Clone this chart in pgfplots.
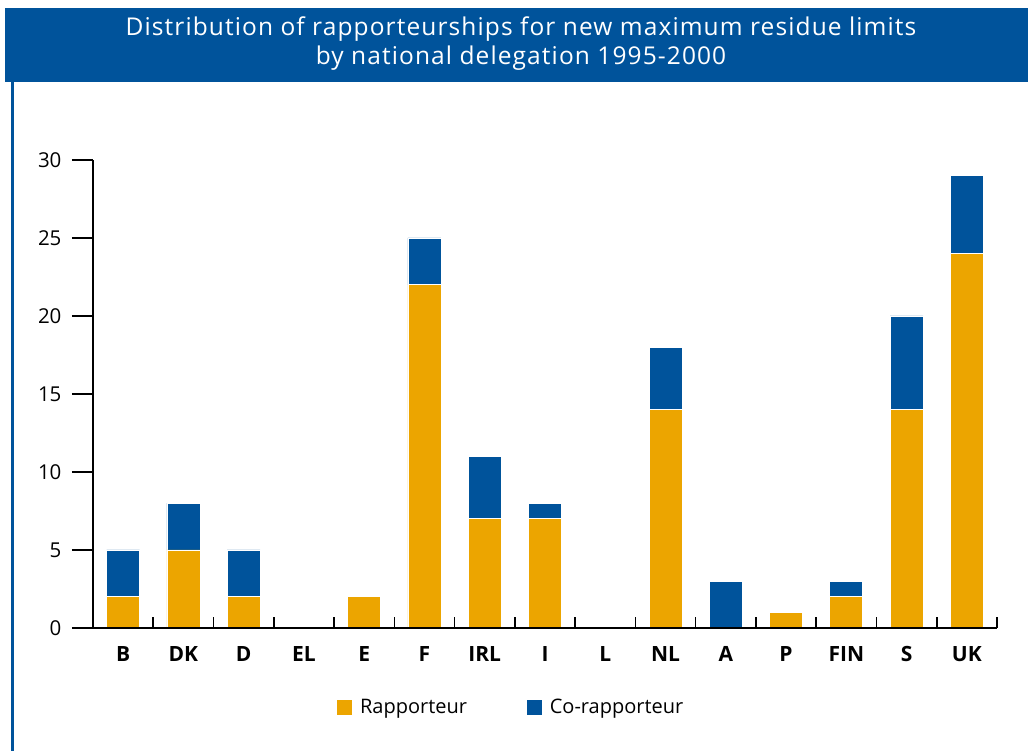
\documentclass[border=0pt]{standalone}
\usepackage{fontspec}
\setmainfont{Open Sans}
\newfontfamily\titlefont[LetterSpace=4.5]{Open Sans}
\usepackage{pgfplots}
\pgfplotsset{compat=1.18}
\definecolor{eubl}{RGB}{0,83,155}
\definecolor{euor}{RGB}{236,165,0}
\begin{document}
\begin{tikzpicture}[x=1pt,y=1pt]
\useasboundingbox (0,0) rectangle (1028,751);
\fill[eubl] (5,669) rectangle (1028,743);
\draw[eubl,line width=2.5pt] (12.5,670) -- (12.5,0);
\node[white,font=\titlefont\fontsize{24.5}{29}\selectfont,align=center] at (521,707) {Distribution of rapporteurships for new maximum residue limits\\by national delegation 1995-2000};
\begin{axis}[at={(93pt,123pt)}, anchor=south west, scale only axis,
  width=904pt, height=468pt, xmin=-0.5, xmax=14.5, ymin=0, ymax=30,
  ybar stacked, bar width=33pt,
  axis x line=bottom, axis y line=left,
  axis line style={-, line width=1.6pt, black},
  xtick=\empty, ytick={0,5,...,30},
  tick align=outside, major tick length=21pt,
  tick style={line width=1.6pt, black},
  yticklabel style={font=\fontsize{20.5}{20}\selectfont, xshift=-7pt},
  /pgf/number format/assume math mode=true,
  legend columns=2,
  legend style={draw=none, fill=none, at={(0.27,-0.169)}, anchor=west, inner sep=0pt,
    font=\fontsize{20}{20}\selectfont,
    /tikz/every even column/.append style={column sep=58pt}},
  legend cell align=left]
\addplot[fill=euor, draw=white, line width=0.8pt,
  legend image code/.code={\fill[euor] (0pt,-7pt) rectangle (14pt,7pt); \path (20pt,0pt);}]
  coordinates {(0,2) (1,5) (2,2) (3,0) (4,2) (5,22) (6,7) (7,7) (8,0) (9,14) (10,0) (11,1) (12,2) (13,14) (14,24)};
\addplot[fill=eubl, draw=white, line width=0.8pt,
  legend image code/.code={\fill[eubl] (0pt,-7pt) rectangle (14pt,7pt); \path (20pt,0pt);}]
  coordinates {(0,3) (1,3) (2,3) (3,0) (4,0) (5,3) (6,4) (7,1) (8,0) (9,4) (10,3) (11,0) (12,1) (13,6) (14,5)};
\legend{Rapporteur, Co-rapporteur}
\end{axis}
\begin{axis}[at={(93pt,123pt)}, anchor=south west, scale only axis,
  width=904pt, height=468pt, xmin=-0.5, xmax=14.5, ymin=0, ymax=30,
  axis x line=bottom, axis y line=none,
  axis line style={-, line width=1.6pt, black},
  xtick={0.5,1.5,...,14.5},
  xticklabels={B,DK,D,EL,E,F,IRL,I,L,NL,A,P,FIN,S,UK},
  tick align=inside, major tick length=11pt,
  tick style={line width=1.6pt, black},
  xticklabel style={font=\bfseries\fontsize{21}{21}\selectfont, xshift=-30.13pt, anchor=north, yshift=-15pt},
  ytick=\empty]
\addplot[draw=none] coordinates {(0,0)};
\end{axis}
\end{tikzpicture}
\end{document}
